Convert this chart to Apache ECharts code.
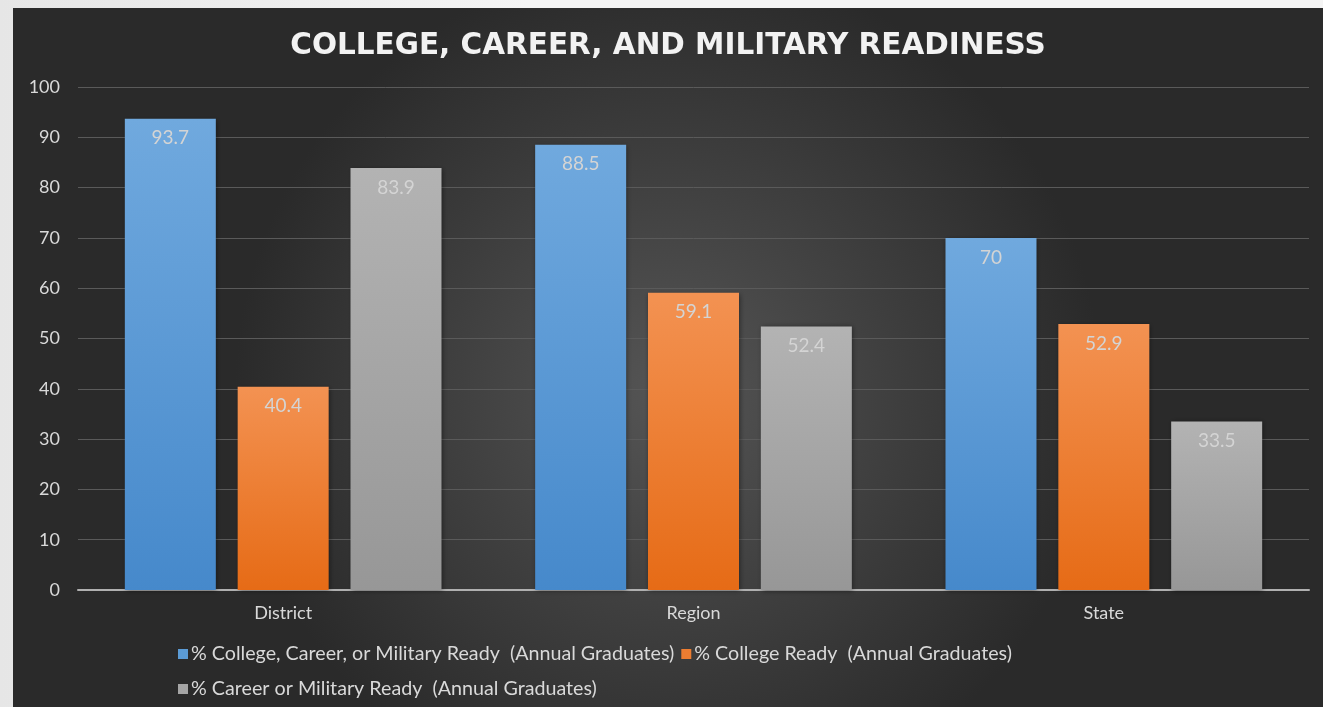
<!DOCTYPE html>
<html>
<head>
<meta charset="utf-8">
<script src="https://cdn.jsdelivr.net/npm/echarts@6/dist/echarts.min.js"></script>
<style>
html,body{margin:0;padding:0;width:1323px;height:707px;overflow:hidden;background:linear-gradient(90deg,#e6e6e6,#f4f4f4 40%,#f4f4f4);}
#chart{position:absolute;left:13px;top:8px;width:1310px;height:699px;}
</style>
</head>
<body>
<div id="chart"></div>
<script>
const title = 'COLLEGE, CAREER, AND MILITARY READINESS';
const categories = ['District', 'Region', 'State'];
const seriesNames = [
  '% College, Career, or Military Ready  (Annual Graduates)',
  '% College Ready  (Annual Graduates)',
  '% Career or Military Ready  (Annual Graduates)'
];
const cccrValues = [93.7, 88.5, 70];
const collegeValues = [40.4, 59.1, 52.9];
const careerValues = [83.9, 52.4, 33.5];
const yTicks = {min: 0, max: 100, interval: 10};

const grad = (top, bottom) => new echarts.graphic.LinearGradient(0, 0, 0, 1, [
  {offset: 0, color: top}, {offset: 1, color: bottom}
]);
const colors = [
  {top: '#70a9de', bottom: '#4689cb', legend: '#5b9bd5'},
  {top: '#f39252', bottom: '#e66b16', legend: '#ed7d31'},
  {top: '#b3b3b3', bottom: '#979797', legend: '#a5a5a5'}
];
const dataSets = [cccrValues, collegeValues, careerValues];
const FONT = 'Lato';

const chart = echarts.init(document.getElementById('chart'));
chart.setOption({
  backgroundColor: new echarts.graphic.RadialGradient(0.5, 0.55, 0.62, [
    {offset: 0, color: '#555555'},
    {offset: 1, color: '#2a2a2a'}
  ]),
  title: {
    text: title,
    left: 'center',
    top: 18,
    textStyle: {color: '#f2f2f2', fontSize: 29.5, fontWeight: 'bold', fontFamily: 'DejaVu Sans'}
  },
  grid: {left: 65, right: 14, top: 79, bottom: 117},
  legend: {
    left: 160,
    top: 627,
    width: 900,
    itemWidth: 10,
    itemHeight: 10,
    itemGap: 7,
    icon: 'rect',
    textStyle: {color: '#d9d9d9', fontSize: 19.7, fontFamily: FONT, lineHeight: 28, padding: [0, 0, 0, -2]},
    data: seriesNames.map((n, i) => ({name: n, itemStyle: {color: colors[i].legend}}))
  },
  xAxis: {
    type: 'category',
    data: categories,
    axisLine: {lineStyle: {color: '#b0b0b0', width: 2}},
    axisTick: {show: false},
    axisLabel: {color: '#d9d9d9', fontSize: 18, fontFamily: FONT, margin: 14}
  },
  yAxis: {
    type: 'value',
    min: yTicks.min, max: yTicks.max, interval: yTicks.interval,
    axisLine: {show: false},
    axisTick: {show: false},
    axisLabel: {color: '#d9d9d9', fontSize: 18, fontFamily: FONT, margin: 18},
    splitLine: {lineStyle: {color: '#5a5a5a', width: 1}}
  },
  series: dataSets.map((d, i) => ({
    name: seriesNames[i],
    type: 'bar',
    data: d,
    barWidth: 91,
    barGap: '24%',
    itemStyle: {
      color: grad(colors[i].top, colors[i].bottom),
      shadowBlur: 5, shadowColor: 'rgba(0,0,0,0.45)', shadowOffsetX: 1, shadowOffsetY: 1
    },
    label: {
      show: true, position: 'insideTop', distance: 10,
      color: '#d4d4d4', fontSize: 19, fontFamily: FONT
    }
  }))
});
</script>
</body>
</html>
